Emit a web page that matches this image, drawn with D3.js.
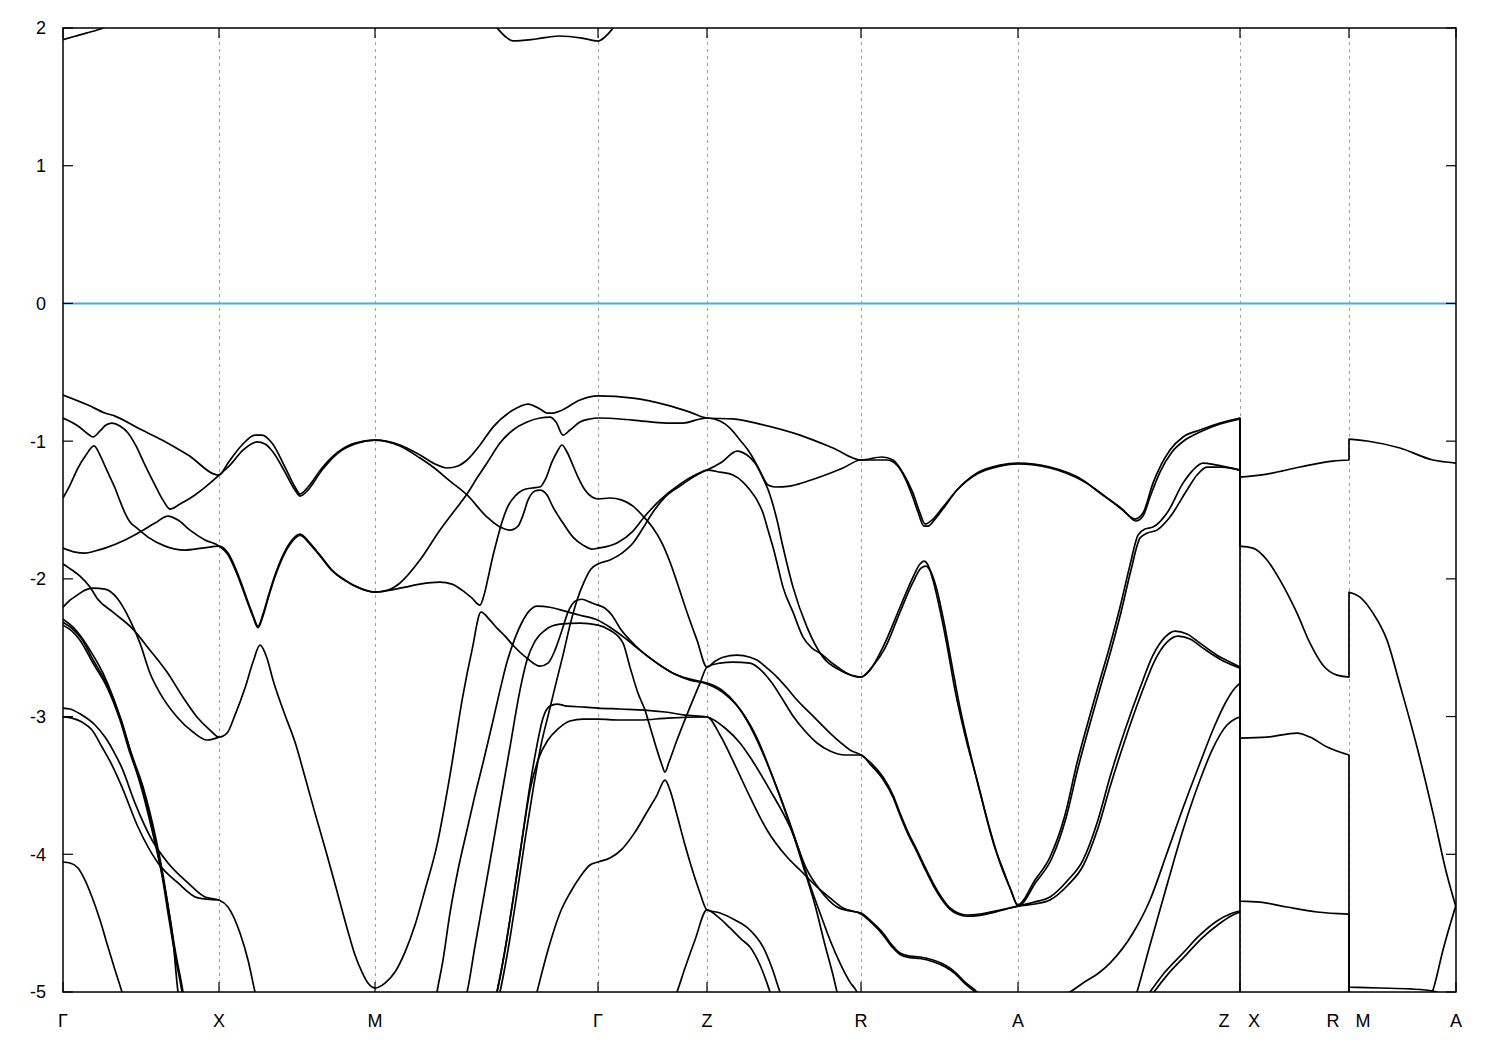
<!DOCTYPE html>
<html><head><meta charset="utf-8">
<script src="https://cdn.jsdelivr.net/npm/d3@7"></script>
<style>
body{margin:0;background:#fff;}
svg{display:block;}
text{font-family:"Liberation Sans",Arial,sans-serif;}
</style>
</head><body>
<svg id="chart" width="1500" height="1050"></svg>
<script>
// High-symmetry points along the k-path
const kTicks  = [0, 1.56, 3.12, 5.35, 6.44, 7.98, 9.55, 11.77, 11.77, 12.86, 12.86, 13.93];
const kLabels = ["Γ", "X", "M", "Γ", "Z", "R", "A", "Z", "X", "R", "M", "A"];
const yTicks  = [-5, -4, -3, -2, -1, 0, 1, 2];
const fermiLevel = 0;

// Bands: [k, E(eV)]
const band01 = [[0,-0.665],[0.25,-0.738],[0.42,-0.796],[0.52,-0.818],[0.75,-0.905],[0.99,-0.992],[1.25,-1.101],[1.56,-1.246],[1.65,-1.159],[1.79,-1.028],[1.92,-0.956],[1.99,-0.956],[2.09,-1.014],[2.22,-1.188],[2.32,-1.333],[2.37,-1.384],[2.45,-1.333],[2.59,-1.195],[2.75,-1.079],[2.92,-1.014],[3.12,-0.992],
 [3.37,-1.028],[3.57,-1.101],[3.72,-1.166],[3.84,-1.195],[3.95,-1.181],[4.04,-1.137],[4.17,-1.028],[4.30,-0.898],[4.50,-0.774],[4.65,-0.731],[4.77,-0.767],[4.84,-0.796],[4.90,-0.796],[4.97,-0.781],[5.17,-0.701],[5.35,-0.672],[5.70,-0.687],[6.04,-0.738],[6.27,-0.789],[6.44,-0.832],
 [6.70,-0.839],[6.97,-0.876],[7.37,-0.956],[7.70,-1.050],[7.98,-1.137],
 [8.19,-1.115],[8.30,-1.137],[8.40,-1.231],[8.50,-1.377],[8.57,-1.522],[8.62,-1.602],[8.69,-1.573],[8.80,-1.479],[8.94,-1.355],[9.14,-1.231],[9.37,-1.174],[9.55,-1.159],
 [9.87,-1.188],[10.20,-1.283],[10.37,-1.377],[10.57,-1.479],[10.72,-1.566],[10.80,-1.522],[10.90,-1.305],[11.07,-1.065],[11.20,-0.970],[11.37,-0.919],[11.57,-0.869],[11.77,-0.832],
 [11.77,-1.261],[12.04,-1.239],[12.37,-1.188],[12.70,-1.145],[12.86,-1.137],
 [12.86,-0.985],[13.04,-0.999],[13.37,-1.050],[13.70,-1.137],[13.93,-1.159]];

const band02 = [[0,-0.832],[0.15,-0.890],[0.25,-0.948],[0.30,-0.970],[0.37,-0.926],[0.43,-0.883],[0.49,-0.869],[0.57,-0.890],[0.65,-0.941],[0.73,-1.035],[0.82,-1.174],[0.92,-1.319],[1.00,-1.428],[1.07,-1.493],[1.17,-1.457],[1.32,-1.391],[1.47,-1.305],[1.56,-1.246],
 [1.67,-1.174],[1.80,-1.065],[1.94,-1.006],[2.02,-1.021],[2.10,-1.079],[2.22,-1.225],[2.32,-1.355],[2.37,-1.399],[2.45,-1.355],[2.59,-1.210],[2.75,-1.086],[2.92,-1.021],[3.12,-0.992],
 [3.37,-1.035],[3.57,-1.123],[3.70,-1.188],[3.87,-1.290],[4.04,-1.391],[4.24,-1.551],[4.37,-1.624],[4.47,-1.646],[4.55,-1.617],[4.60,-1.537],[4.65,-1.428],[4.72,-1.362],[4.77,-1.355],[4.84,-1.391],[4.90,-1.479],[5.00,-1.595],[5.10,-1.697],[5.20,-1.755],[5.29,-1.784],[5.35,-1.777],
 [5.54,-1.740],[5.70,-1.653],[5.82,-1.544],[5.97,-1.428],[6.17,-1.312],[6.32,-1.246],[6.44,-1.210],
 [6.59,-1.151],[6.74,-1.072],[6.84,-1.101],[6.92,-1.159],[7.00,-1.268],[7.07,-1.391],[7.14,-1.573],[7.20,-1.769],[7.30,-2.060],[7.44,-2.351],[7.60,-2.569],[7.77,-2.663],[7.98,-2.713],
 [8.07,-2.663],[8.20,-2.496],[8.37,-2.206],[8.50,-1.987],[8.57,-1.892],[8.61,-1.871],[8.65,-1.900],[8.70,-2.009],[8.77,-2.227],[8.84,-2.482],[8.92,-2.808],[9.02,-3.134],[9.14,-3.461],[9.27,-3.824],[9.37,-4.063],[9.47,-4.245],[9.55,-4.368],
 [9.72,-4.187],[9.87,-4.020],[10.02,-3.715],[10.14,-3.337],[10.27,-2.989],[10.37,-2.735],[10.47,-2.482],[10.57,-2.206],[10.67,-1.900],[10.75,-1.682],[10.82,-1.638],[10.90,-1.624],[11.04,-1.522],[11.20,-1.305],[11.30,-1.210],[11.40,-1.159],[11.54,-1.174],[11.77,-1.210],
 [11.77,-3.156],[12.04,-3.149],[12.34,-3.120],[12.47,-3.149],[12.64,-3.221],[12.86,-3.279],[12.86,-5.3]];

const band03 = [[0,-1.413],[0.07,-1.319],[0.15,-1.195],[0.23,-1.101],[0.31,-1.035],[0.37,-1.101],[0.42,-1.181],[0.47,-1.261],[0.52,-1.340],[0.57,-1.435],[0.62,-1.522],[0.67,-1.587],[0.74,-1.631],[0.85,-1.697],[1.02,-1.762],[1.22,-1.791],[1.39,-1.777],[1.56,-1.762],
 [1.65,-1.813],[1.72,-1.914],[1.79,-2.045],[1.85,-2.169],[1.90,-2.264],[1.95,-2.344],[2.00,-2.256],[2.05,-2.133],[2.12,-1.972],[2.20,-1.827],[2.29,-1.718],[2.37,-1.675],[2.47,-1.740],[2.57,-1.827],[2.69,-1.936],[2.82,-2.009],[2.97,-2.067],[3.12,-2.097],
 [3.25,-2.082],[3.37,-2.030],[3.57,-1.863],[3.77,-1.646],[3.92,-1.500],[4.04,-1.384],[4.14,-1.268],[4.24,-1.159],[4.37,-1.014],[4.50,-0.919],[4.64,-0.861],[4.77,-0.832],[4.87,-0.825],[4.93,-0.861],[5.00,-0.956],[5.07,-0.919],[5.17,-0.861],[5.27,-0.839],[5.35,-0.832],
 [5.70,-0.847],[6.04,-0.869],[6.20,-0.869],[6.37,-0.839],[6.44,-0.832],
 [6.57,-0.854],[6.67,-0.905],[6.77,-0.992],[6.85,-1.065],[6.94,-1.174],[7.00,-1.261],[7.05,-1.319],[7.12,-1.333],[7.27,-1.326],[7.42,-1.297],[7.54,-1.268],[7.80,-1.195],[7.98,-1.137],
 [8.12,-1.137],[8.24,-1.137],[8.34,-1.174],[8.42,-1.268],[8.49,-1.391],[8.55,-1.515],[8.61,-1.617],[8.65,-1.617],[8.72,-1.566],[8.82,-1.472],[8.94,-1.355],[9.14,-1.239],[9.37,-1.181],[9.55,-1.166],
 [9.87,-1.195],[10.20,-1.290],[10.47,-1.428],[10.62,-1.515],[10.73,-1.580],[10.80,-1.544],[10.87,-1.406],[10.97,-1.225],[11.09,-1.079],[11.22,-0.992],[11.37,-0.934],[11.57,-0.876],[11.77,-0.839],
 [11.77,-1.762],[11.90,-1.777],[12.04,-1.863],[12.17,-2.009],[12.34,-2.249],[12.47,-2.467],[12.60,-2.627],[12.74,-2.699],[12.86,-2.713],
 [12.86,-2.097],[12.97,-2.133],[13.10,-2.249],[13.24,-2.445],[13.37,-2.771],[13.54,-3.221],[13.70,-3.701],[13.84,-4.151],[13.93,-4.383]];

const band04 = [[0,-1.777],[0.12,-1.806],[0.22,-1.813],[0.32,-1.798],[0.42,-1.777],[0.62,-1.718],[0.77,-1.660],[0.92,-1.595],[1.05,-1.544],[1.15,-1.573],[1.27,-1.646],[1.42,-1.718],[1.56,-1.762],
 [1.65,-1.825],[1.72,-1.930],[1.79,-2.060],[1.85,-2.180],[1.90,-2.275],[1.95,-2.355],[2.00,-2.270],[2.05,-2.145],[2.12,-1.985],[2.20,-1.840],[2.29,-1.730],[2.37,-1.685],[2.47,-1.748],[2.57,-1.834],[2.69,-1.940],[2.82,-2.012],[2.97,-2.070],[3.12,-2.097],
 [3.27,-2.082],[3.42,-2.060],[3.57,-2.038],[3.77,-2.024],[3.89,-2.038],[3.99,-2.082],[4.09,-2.140],[4.17,-2.191],
 [4.21,-2.119],[4.25,-1.996],[4.29,-1.863],[4.34,-1.718],[4.39,-1.587],[4.45,-1.472],[4.52,-1.399],[4.60,-1.355],[4.69,-1.340],[4.77,-1.333],[4.83,-1.268],[4.89,-1.151],[4.94,-1.079],[4.99,-1.028],[5.04,-1.079],[5.09,-1.159],[5.15,-1.261],[5.22,-1.355],[5.29,-1.406],[5.35,-1.420],
 [5.47,-1.413],[5.59,-1.428],[5.70,-1.472],[5.80,-1.544],[5.90,-1.631],[5.99,-1.740],[6.07,-1.878],[6.14,-2.024],[6.24,-2.242],[6.34,-2.445],[6.44,-2.641],
 [6.52,-2.598],[6.60,-2.569],[6.74,-2.554],[6.87,-2.569],[6.94,-2.590],[7.04,-2.648],[7.14,-2.713],[7.24,-2.793],[7.34,-2.880],[7.45,-2.960],[7.57,-3.047],[7.67,-3.120],[7.77,-3.185],[7.87,-3.243],[7.98,-3.279],
 [8.07,-3.330],[8.20,-3.439],[8.30,-3.570],[8.37,-3.701],[8.45,-3.839],[8.54,-3.969],[8.62,-4.092],[8.70,-4.208],[8.79,-4.317],[8.87,-4.390],[8.95,-4.426],[9.04,-4.441],[9.17,-4.434],[9.32,-4.412],[9.42,-4.397],[9.55,-4.376],
 [9.72,-4.346],[9.87,-4.310],[10.05,-4.187],[10.20,-4.042],[10.35,-3.751],[10.47,-3.439],[10.62,-3.098],[10.77,-2.793],[10.90,-2.554],[11.02,-2.423],[11.12,-2.379],[11.24,-2.401],[11.37,-2.467],[11.54,-2.554],[11.67,-2.604],[11.77,-2.641],
 [11.77,-4.340],[11.97,-4.347],[12.24,-4.383],[12.54,-4.419],[12.86,-4.434],
 [12.86,-4.964],[13.17,-4.971],[13.47,-4.978],[13.70,-4.993],[13.82,-5.02],[13.93,-5.05]];

const band05 = [[0,-1.892],[0.09,-1.936],[0.17,-1.980],[0.27,-2.060],[0.34,-2.140],[0.50,-2.242],[0.69,-2.358],[0.87,-2.518],[1.04,-2.677],[1.20,-2.859],[1.34,-3.003],[1.47,-3.098],[1.56,-3.149],
 [1.64,-3.120],[1.72,-2.989],[1.82,-2.793],[1.90,-2.604],[1.97,-2.481],[2.04,-2.576],[2.10,-2.735],[2.22,-2.989],[2.32,-3.185],[2.42,-3.439],[2.52,-3.701],[2.64,-4.005],[2.75,-4.295],[2.84,-4.535],[2.92,-4.731],[2.99,-4.855],[3.05,-4.935],[3.12,-4.971],
 [3.22,-4.935],[3.32,-4.855],[3.42,-4.710],[3.52,-4.514],[3.62,-4.259],[3.74,-3.933],[3.87,-3.425],[4.00,-2.844],[4.09,-2.518],[4.18,-2.242],
 [4.27,-2.300],[4.34,-2.358],[4.42,-2.416],[4.50,-2.482],[4.64,-2.576],[4.77,-2.634],[4.85,-2.612],[4.92,-2.518],[4.99,-2.373],[5.05,-2.242],[5.12,-2.162],[5.19,-2.148],[5.27,-2.169],[5.35,-2.191],
 [5.42,-2.213],[5.49,-2.264],[5.57,-2.358],[5.67,-2.445],[5.77,-2.518],[5.94,-2.612],[6.10,-2.685],[6.27,-2.728],[6.44,-2.757],
 [6.59,-2.808],[6.74,-2.917],[6.87,-3.069],[7.04,-3.337],[7.20,-3.642],[7.32,-3.896],[7.42,-4.129],[7.52,-4.368],[7.62,-4.659],[7.70,-4.877],[7.74,-5.0],[7.77,-5.094]];

const band06 = [[0,-2.206],[0.07,-2.155],[0.14,-2.119],[0.22,-2.082],[0.30,-2.067],[0.42,-2.075],[0.55,-2.148],[0.67,-2.300],[0.77,-2.467],[0.87,-2.685],[0.97,-2.830],[1.14,-3.003],[1.30,-3.112],[1.44,-3.170],[1.56,-3.149]];

const band07 = [[0,-2.938],[0.07,-2.945],[0.19,-2.989],[0.32,-3.061],[0.42,-3.149],[0.51,-3.258],[0.59,-3.374],[0.72,-3.628],[0.89,-3.896],[1.05,-4.063],[1.25,-4.208],[1.42,-4.310],[1.56,-4.332],[1.65,-4.383],[1.77,-4.572],[1.85,-4.768],[1.92,-5.0],[1.95,-5.094]];

const band08 = [[0,-3.003],[0.09,-3.011],[0.19,-3.040],[0.29,-3.098],[0.39,-3.221],[0.49,-3.352],[0.59,-3.512],[0.75,-3.802],[0.95,-4.063],[1.15,-4.208],[1.35,-4.317],[1.56,-4.332]];

const band09 = [[0,-4.056],[0.07,-4.063],[0.15,-4.099],[0.22,-4.187],[0.29,-4.310],[0.37,-4.477],[0.45,-4.673],[0.52,-4.840],[0.59,-5.0],[0.63,-5.094]];

const band10 = [[0,-2.293],[0.09,-2.344],[0.17,-2.409],[0.30,-2.554],[0.40,-2.685],[0.50,-2.859],[0.60,-3.076],[0.70,-3.316],[0.79,-3.534],[0.89,-3.824],[0.97,-4.078],[1.04,-4.332],[1.10,-4.622],[1.15,-5.0],[1.17,-5.094]];

const band11 = [[0,-2.336],[0.09,-2.380],[0.17,-2.445],[0.30,-2.612],[0.44,-2.786],[0.57,-3.025],[0.67,-3.265],[0.79,-3.512],[0.92,-3.896],[0.99,-4.151],[1.05,-4.426],[1.12,-4.731],[1.19,-5.0],[1.21,-5.094]];

const band12 = [[0,-2.315],[0.09,-2.360],[0.18,-2.430],[0.31,-2.600],[0.45,-2.780],[0.58,-3.020],[0.68,-3.260],[0.80,-3.510],[0.93,-3.890],[1.00,-4.150],[1.06,-4.420],[1.13,-4.730],[1.20,-5.0],[1.22,-5.094]];

const band13 = [[3.71,-5.13],[3.74,-5.0],[3.80,-4.768],[3.87,-4.426],[3.95,-4.114],[4.04,-3.824],[4.12,-3.570],[4.20,-3.337],[4.29,-3.061],[4.37,-2.808],[4.44,-2.604],[4.52,-2.430],[4.59,-2.315],[4.67,-2.227],[4.74,-2.198],[4.87,-2.206],[5.02,-2.234],[5.17,-2.264],[5.35,-2.300],
 [5.47,-2.351],[5.62,-2.430],[5.77,-2.518],[5.94,-2.612],[6.10,-2.685],[6.27,-2.735],[6.44,-2.764],
 [6.62,-2.837],[6.79,-2.967],[6.94,-3.156],[7.09,-3.425],[7.24,-3.715],[7.37,-3.991],[7.47,-4.223],[7.57,-4.426],[7.67,-4.622],[7.77,-4.790],[7.87,-4.928],[7.94,-5.0],[7.99,-5.094]];

const band14 = [[3.98,-5.10],[4.04,-5.0],[4.12,-4.666],[4.20,-4.339],[4.29,-3.969],[4.37,-3.635],[4.47,-3.221],[4.57,-2.808],[4.64,-2.590],[4.72,-2.452],[4.82,-2.373],[4.97,-2.329],[5.17,-2.322],[5.35,-2.336],
 [5.47,-2.373],[5.60,-2.467],[5.67,-2.641],[5.75,-2.830],[5.82,-2.953],[5.88,-3.098],[5.94,-3.243],[5.99,-3.352],[6.02,-3.403],[6.06,-3.330],[6.14,-3.170],[6.27,-2.931],[6.37,-2.757],[6.44,-2.641],
 [6.57,-2.612],[6.70,-2.604],[6.87,-2.612],[6.99,-2.670],[7.09,-2.757],[7.20,-2.880],[7.30,-2.996],[7.42,-3.105],[7.54,-3.192],[7.67,-3.250],[7.82,-3.279],[7.98,-3.279],
 [8.07,-3.345],[8.20,-3.455],[8.30,-3.585],[8.37,-3.716],[8.45,-3.854],[8.54,-3.984],[8.62,-4.107],[8.70,-4.223],[8.79,-4.330],[8.87,-4.400],[8.95,-4.436],[9.04,-4.450],[9.17,-4.443],[9.32,-4.420],[9.42,-4.400],[9.55,-4.376],
 [9.72,-4.361],[9.87,-4.332],[10.05,-4.223],[10.20,-4.085],[10.35,-3.809],[10.47,-3.512],[10.62,-3.170],[10.79,-2.822],[10.92,-2.590],[11.04,-2.460],[11.15,-2.416],[11.27,-2.437],[11.40,-2.503],[11.57,-2.583],[11.77,-2.648]];

const band15 = [[4.31,-5.094],[4.34,-5.0],[4.42,-4.695],[4.50,-4.332],[4.59,-3.896],[4.67,-3.497],[4.74,-3.207],[4.80,-3.011],[4.87,-2.924],[4.94,-2.909],[5.04,-2.924],[5.22,-2.931],[5.35,-2.938],[5.57,-2.945],[5.82,-2.953],[6.02,-2.967],[6.22,-2.989],[6.44,-3.003],
 [6.62,-3.083],[6.77,-3.192],[6.87,-3.294],[7.07,-3.534],[7.27,-3.802],[7.44,-4.114],[7.57,-4.259],[7.74,-4.383],[7.87,-4.412],[7.98,-4.426],
 [8.09,-4.492],[8.20,-4.572],[8.29,-4.659],[8.37,-4.717],[8.47,-4.739],[8.57,-4.746],[8.70,-4.768],[8.82,-4.804],[8.92,-4.855],[9.02,-4.928],[9.14,-5.0],[9.22,-5.072]];

const band16 = [[4.31,-5.094],[4.34,-5.0],[4.42,-4.695],[4.50,-4.332],[4.59,-3.896],[4.67,-3.534],[4.75,-3.316],[4.85,-3.170],[4.95,-3.090],[5.07,-3.032],[5.20,-3.018],[5.35,-3.018],[5.57,-3.025],[5.77,-3.025],[6.04,-3.011],[6.44,-3.003],
 [6.57,-3.134],[6.72,-3.352],[6.87,-3.584],[7.04,-3.824],[7.24,-4.020],[7.37,-4.114],[7.54,-4.237],[7.67,-4.317],[7.80,-4.390],[7.98,-4.434],
 [8.09,-4.500],[8.20,-4.585],[8.29,-4.672],[8.37,-4.728],[8.47,-4.750],[8.57,-4.757],[8.70,-4.780],[8.82,-4.816],[8.92,-4.866],[9.02,-4.940],[9.12,-5.0],[9.20,-5.072]];

const band17 = [[4.34,-5.094],[4.37,-5.0],[4.45,-4.695],[4.53,-4.332],[4.62,-3.896],[4.70,-3.534],[4.78,-3.207],[4.86,-2.967],[4.93,-2.757],[5.00,-2.554],[5.07,-2.336],[5.14,-2.155],[5.21,-2.024],[5.28,-1.929],[5.35,-1.892],
 [5.47,-1.863],[5.59,-1.813],[5.70,-1.740],[5.80,-1.631],[5.90,-1.515],[6.02,-1.406],[6.17,-1.326],[6.32,-1.254],[6.44,-1.210],
 [6.57,-1.225],[6.70,-1.246],[6.80,-1.297],[6.87,-1.355],[6.94,-1.428],[7.00,-1.522],[7.05,-1.646],[7.10,-1.769],[7.15,-1.914],[7.20,-2.060],[7.30,-2.242],[7.40,-2.423],[7.49,-2.503],[7.57,-2.540],[7.72,-2.627],[7.84,-2.685],[7.98,-2.713],
 [8.09,-2.641],[8.22,-2.503],[8.37,-2.242],[8.50,-2.024],[8.58,-1.922],[8.63,-1.907],[8.68,-1.951],[8.74,-2.082],[8.81,-2.315],[8.88,-2.590],[8.97,-2.938],[9.07,-3.257],[9.19,-3.606],[9.31,-3.933],[9.41,-4.129],[9.49,-4.281],[9.55,-4.376],
 [9.73,-4.202],[9.89,-4.027],[10.03,-3.737],[10.15,-3.374],[10.28,-3.025],[10.38,-2.771],[10.48,-2.518],[10.58,-2.242],[10.68,-1.936],[10.77,-1.704],[10.84,-1.668],[10.94,-1.646],[11.07,-1.551],[11.24,-1.355],[11.34,-1.246],[11.44,-1.188],[11.59,-1.188],[11.77,-1.210]];

const band18 = [[4.71,-5.087],[4.74,-5.0],[4.85,-4.695],[4.97,-4.426],[5.07,-4.281],[5.17,-4.165],[5.27,-4.078],[5.35,-4.056],[5.47,-4.027],[5.59,-3.962],[5.72,-3.839],[5.84,-3.693],[5.94,-3.570],[6.02,-3.461],[6.07,-3.534],[6.14,-3.715],[6.22,-3.933],[6.30,-4.129],[6.37,-4.281],[6.44,-4.404],
 [6.57,-4.426],[6.72,-4.477],[6.87,-4.550],[7.00,-4.673],[7.09,-4.826],[7.17,-5.0],[7.22,-5.094]];

const band19 = [[6.09,-5.094],[6.14,-5.0],[6.22,-4.826],[6.32,-4.622],[6.44,-4.404],[6.55,-4.455],[6.67,-4.535],[6.79,-4.622],[6.87,-4.673],[6.97,-4.804],[7.07,-5.0],[7.11,-5.094]];

const band20 = [[9.67,-5.087],[9.87,-5.058],[9.99,-5.029],[10.07,-5.0],[10.20,-4.935],[10.37,-4.855],[10.47,-4.790],[10.70,-4.572],[10.87,-4.332],[11.04,-3.991],[11.20,-3.664],[11.37,-3.337],[11.52,-3.061],[11.64,-2.880],[11.72,-2.793],[11.77,-2.757]];

const band21 = [[10.69,-5.116],[10.74,-5.0],[10.87,-4.659],[11.04,-4.223],[11.20,-3.824],[11.37,-3.461],[11.50,-3.229],[11.64,-3.061],[11.72,-3.018],[11.77,-3.003],[11.77,-5.3]];

const band22 = [[10.80,-5.072],[10.87,-5.0],[11.02,-4.855],[11.20,-4.717],[11.37,-4.586],[11.54,-4.484],[11.67,-4.434],[11.77,-4.412]];

const band23 = [[10.84,-5.072],[10.91,-5.0],[11.05,-4.870],[11.22,-4.739],[11.39,-4.608],[11.56,-4.506],[11.68,-4.448],[11.77,-4.419]];

const band24 = [[13.62,-5.094],[13.70,-4.985],[13.80,-4.695],[13.87,-4.514],[13.93,-4.368]];

const cond01 = [[0,1.915],[0.12,1.94],[0.24,1.965],[0.32,1.98],[0.40,2.0],[0.48,2.02]];
const cond02 = [[4.30,2.03],[4.34,2.0],[4.42,1.94],[4.50,1.906],[4.73,1.92],[4.96,1.942],[5.19,1.927],[5.35,1.905],[5.42,1.935],[5.49,1.99],[5.52,2.02]];

const bands = [band01,band02,band03,band04,band05,band06,band07,band08,band09,band10,band11,band12,
  band13,band14,band15,band16,band17,band18,band19,band20,band21,band22,band23,band24,cond01,cond02];

// ---------- drawing ----------
const svg = d3.select("#chart");
svg.append("rect").attr("width",1500).attr("height",1050).attr("fill","#fff");

const L = 63, R = 1456, T = 28, B = 992;
const x = d3.scaleLinear().domain([kTicks[0], kTicks[kTicks.length-1]]).range([L, R]);
const y = d3.scaleLinear().domain([-5, 2]).range([B, T]);
const crisp = v => Math.round(v) + 0.5;

svg.append("defs").append("clipPath").attr("id","plotclip")
  .append("rect").attr("x",L).attr("y",T).attr("width",R-L).attr("height",B-T);

const uniqK = Array.from(new Set(kTicks));

// vertical dotted grid
svg.append("g").selectAll("line").data(uniqK.filter(k => k > kTicks[0] && k < kTicks[kTicks.length-1]))
  .enter().append("line")
  .attr("x1", d => crisp(x(d))).attr("x2", d => crisp(x(d)))
  .attr("y1", T).attr("y2", B)
  .attr("stroke", "#a0a0a0").attr("stroke-width", 1)
  .attr("stroke-dasharray", "3,4").attr("shape-rendering", "crispEdges");

// Fermi level
svg.append("line").attr("x1", L).attr("x2", R)
  .attr("y1", y(fermiLevel)).attr("y2", y(fermiLevel))
  .attr("stroke", "#4aa9e3").attr("stroke-width", 2);

// bands
const line = d3.line().x(d => x(d[0])).y(d => y(d[1])).curve(d3.curveMonotoneX);
function bandPath(pts) {
  const runs = [];
  let cur = [pts[0]];
  for (let i = 1; i < pts.length; i++) {
    if (pts[i][0] === pts[i-1][0]) { runs.push(cur); cur = [pts[i]]; }
    else cur.push(pts[i]);
  }
  runs.push(cur);
  let d = "";
  runs.forEach((r, i) => {
    let s;
    if (r.length === 1) s = "M" + x(r[0][0]) + "," + y(r[0][1]);
    else s = line(r);
    if (i > 0) s = "L" + s.slice(1);
    d += s;
  });
  return d;
}
svg.append("g").attr("clip-path", "url(#plotclip)")
  .selectAll("path").data(bands).enter().append("path")
  .attr("d", bandPath)
  .attr("fill", "none").attr("stroke", "#000")
  .attr("stroke-width", 1.7).attr("stroke-linejoin", "round");

// border
svg.append("rect").attr("x", L).attr("y", T).attr("width", R-L).attr("height", B-T)
  .attr("fill", "none").attr("stroke", "#000").attr("stroke-width", 1.5);

// ticks (inward, mirrored)
const tk = svg.append("g").attr("stroke", "#000").attr("stroke-width", 1.2);
uniqK.forEach(k => {
  tk.append("line").attr("x1", x(k)).attr("x2", x(k)).attr("y1", B).attr("y2", B-10);
  tk.append("line").attr("x1", x(k)).attr("x2", x(k)).attr("y1", T).attr("y2", T+10);
});
yTicks.forEach(v => {
  tk.append("line").attr("x1", L).attr("x2", L+10).attr("y1", y(v)).attr("y2", y(v));
  tk.append("line").attr("x1", R).attr("x2", R-10).attr("y1", y(v)).attr("y2", y(v));
});

// y labels
svg.append("g").selectAll("text").data(yTicks).enter().append("text")
  .attr("x", 46).attr("y", d => y(d)).attr("dy", "0.36em")
  .attr("text-anchor", "end").attr("font-size", 18).attr("fill", "#000")
  .text(d => d);

// x labels (two labels on a shared tick are split apart)
const xl = svg.append("g");
kLabels.forEach((lab, i) => {
  const k = kTicks[i];
  let dx = 0;
  if (i + 1 < kTicks.length && kTicks[i+1] === k) dx = -16;
  if (i > 0 && kTicks[i-1] === k) dx = 14;
  xl.append("text").attr("x", x(k) + dx).attr("y", 1027)
    .attr("text-anchor", "middle").attr("font-size", 18).attr("fill", "#000")
    .text(lab);
});
</script>
</body></html>
